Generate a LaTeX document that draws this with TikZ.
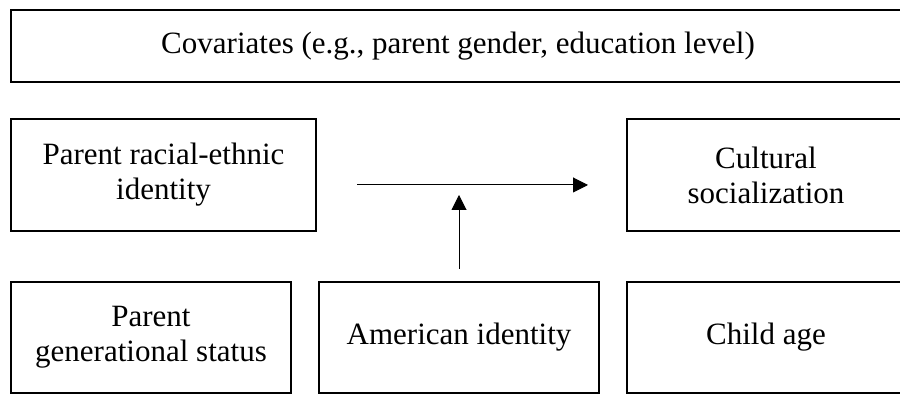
\documentclass[tikz,border=0pt]{standalone}
\usepackage{fontspec}
\setmainfont{Liberation Serif}
\usetikzlibrary{positioning,arrows.meta}

\begin{document}
\begin{tikzpicture}[x=1pt, y=1pt,
  box/.style = {draw, line width=2pt, outer sep=0pt, inner sep=0pt, align=center,
    font=\fontsize{31}{35}\selectfont},
  link/.style = {line width=1pt, -{Triangle[length=15pt,width=15pt]}}]
\useasboundingbox (0,0) rectangle (900,395);
\node[box, minimum width=305pt, minimum height=112pt] (identity) at (163.5,220) {Parent racial-ethnic\\identity};
\node[box, minimum width=278pt, minimum height=112pt] (social) [right=311pt of identity] {Cultural\\socialization};
\node[box, minimum width=894pt, minimum height=72pt] (covar) [above=37pt of identity.north west, anchor=south west] {Covariates (e.g., parent gender, education level)};
\node[box, minimum width=280pt, minimum height=111pt] (genstatus) [below=51pt of identity.south west, anchor=north west] {Parent\\generational status};
\node[box, minimum width=280pt, minimum height=111pt] (american) [right=28pt of genstatus] {American identity};
\node[box, minimum width=278pt, minimum height=111pt] (childage) [below=51pt of social.south west, anchor=north west] {Child age};
\coordinate (from) at (357,210);
\coordinate (to) at (588,210);
\coordinate (meet) at (459,200);
\draw[link] (from) -- (to);
\draw[link] ([yshift=13pt]american.north) -- (meet);
\end{tikzpicture}
\end{document}
